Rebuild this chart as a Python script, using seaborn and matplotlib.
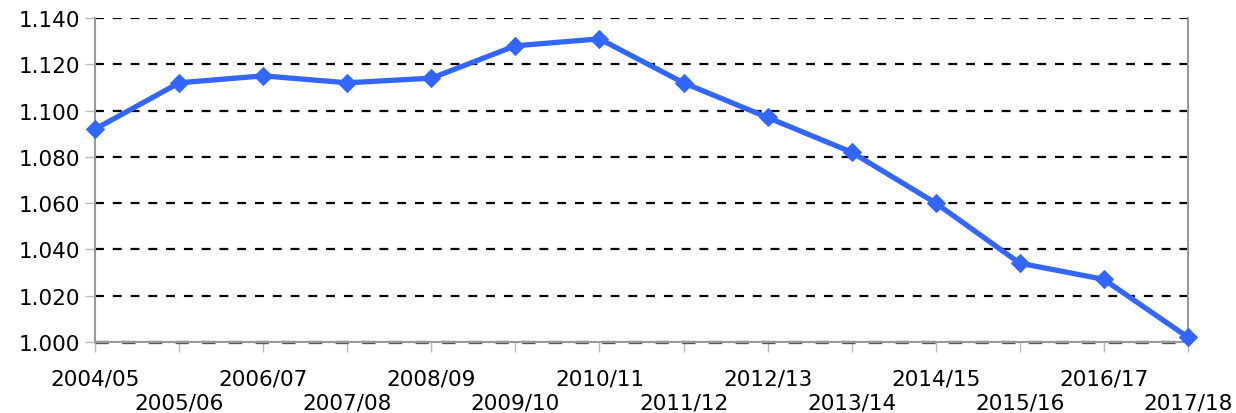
import numpy as np
import pandas as pd
import matplotlib
matplotlib.use('Agg')
import matplotlib.pyplot as plt
import seaborn as sns

# values
years = ['2004/05', '2005/06', '2006/07', '2007/08', '2008/09', '2009/10', '2010/11',
         '2011/12', '2012/13', '2013/14', '2014/15', '2015/16', '2016/17', '2017/18']
ratio = [1.092, 1.112, 1.115, 1.112, 1.114, 1.128, 1.131,
         1.112, 1.097, 1.082, 1.060, 1.034, 1.027, 1.002]
y_ticks = [1.000, 1.020, 1.040, 1.060, 1.080, 1.100, 1.120, 1.140]

sns.set_style('white')
plt.rcParams['font.family'] = ['DejaVu Sans']

df = pd.DataFrame({'year': years, 'ratio': ratio})

fig, ax = plt.subplots(figsize=(12.36, 4.14), dpi=100)
fig.subplots_adjust(left=0.077, right=0.961, top=0.954, bottom=0.172)

# dashed horizontal grid
for v in y_ticks[1:]:
    ax.axhline(v, color='black', linestyle=(0, (4, 4)), linewidth=1.6, zorder=1)
ax.axhline(y_ticks[0], color='#555555', linestyle=(0, (4, 4)), linewidth=2.4, zorder=2,
           clip_on=False)

sns.lineplot(data=df, x='year', y='ratio', ax=ax, color='#3366FF', linewidth=3.8,
             marker='D', markersize=9, markeredgecolor='#3366FF', zorder=3, sort=False,
             clip_on=False)

ax.set_xlim(0, len(years) - 1)
ax.set_ylim(y_ticks[0], y_ticks[-1])
ax.set_yticks(y_ticks)
ax.set_yticklabels([f'{v:.3f}' for v in y_ticks])
ax.set_xticks(range(len(years)))
ax.set_xticklabels([y if i % 2 == 0 else '\n' + y for i, y in enumerate(years)],
                   linespacing=1.25)
ax.set_xlabel('')
ax.set_ylabel('')

for side in ['left', 'right', 'bottom']:
    ax.spines[side].set_color('#999999')
    ax.spines[side].set_linewidth(1.5)
ax.spines['top'].set_visible(False)
ax.tick_params(axis='both', which='both', direction='out', length=7, width=1,
               color='#bbbbbb', labelsize=15.5, labelcolor='black')
ax.tick_params(axis='x', pad=12)
ax.tick_params(axis='y', pad=4)
ax.tick_params(left=True, bottom=True)

fig.savefig('out.png', dpi=100)
